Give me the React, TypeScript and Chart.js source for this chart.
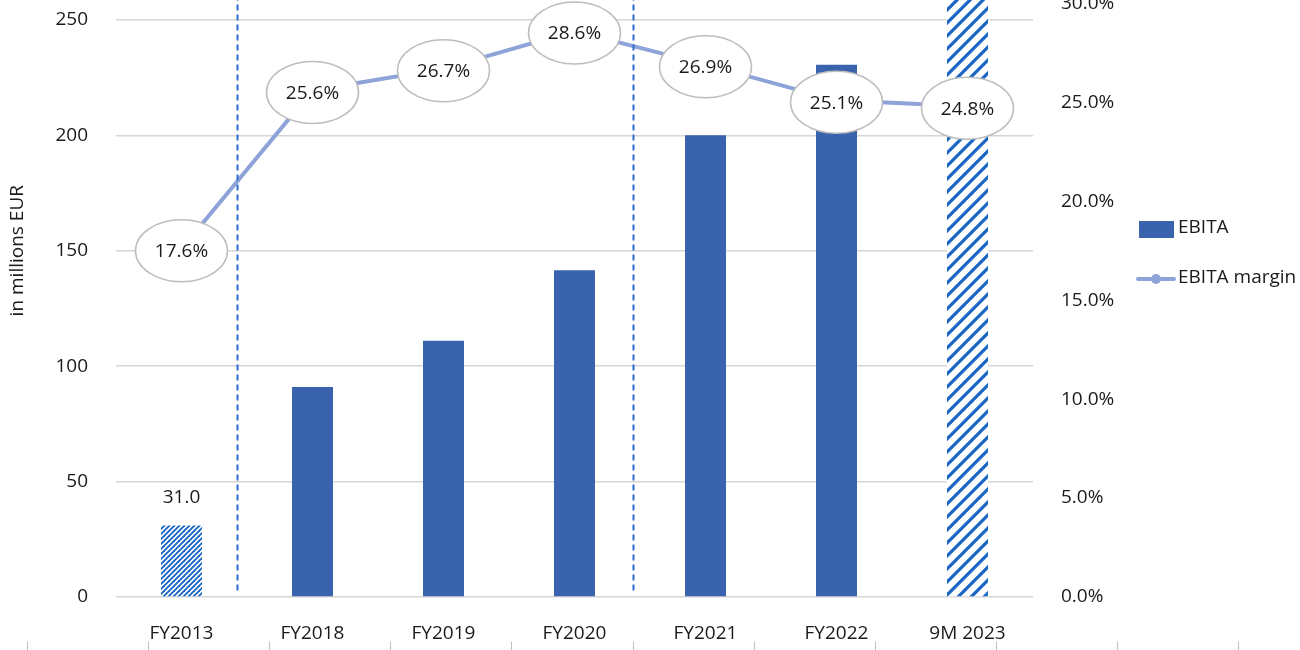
import React, { useEffect, useRef } from 'react';
import { Chart, registerables } from 'chart.js';

Chart.register(...registerables);

// ---------- data ----------
const categories = ['FY2013', 'FY2018', 'FY2019', 'FY2020', 'FY2021', 'FY2022', '9M 2023'];
const ebita = [31.0, 91, 111, 141.5, 200, 230.5, 270];
const ebitaMargin = [17.6, 25.6, 26.7, 28.6, 26.9, 25.1, 24.8];
const hatchPeriods = [5, 0, 0, 0, 0, 0, 13]; // 0 = solid bar
const valueLabelBars = [0];
const dividerPositions = [0.42, 3.45]; // in category-index units
const leftAxisMax = 300;
const leftAxisStep = 50;
const rightAxisMax = 35;
const rightAxisStep = 5;
const legendLabels = ['EBITA', 'EBITA margin'];
const yAxisTitle = 'in millions EUR';

// ---------- styles ----------
const FONT = '"Open Sans", "Noto Sans", sans-serif';
const FONT_SIZE = 19;
const BAR_COLOR = '#3A63AD';
const HATCH_COLOR = '#1A66C4';
const LINE_COLOR = '#8EA3D8';
const GRID_COLOR = '#D6D6D6';
const TEXT_COLOR = '#1a1a1a';
const DIVIDER_COLOR = '#2F6BD0';
const CANVAS_W = 1300;
const CANVAS_SHIFT = 135;
const CANVAS_H = 650 + CANVAS_SHIFT;

function makeHatch(period: number): CanvasPattern | string {
  const c = document.createElement('canvas');
  c.width = period;
  c.height = period;
  const g = c.getContext('2d');
  if (!g) return HATCH_COLOR;
  g.fillStyle = '#ffffff';
  g.fillRect(0, 0, period, period);
  g.strokeStyle = HATCH_COLOR;
  g.lineWidth = period <= 6 ? 1.9 : 3.2;
  g.lineCap = 'square';
  const segs = [
    [0, period, period, 0],
    [-period, period, period, -period],
    [0, 2 * period, 2 * period, 0],
  ];
  segs.forEach(([a, b, cc, d]) => {
    g.beginPath();
    g.moveTo(a, b);
    g.lineTo(cc, d);
    g.stroke();
  });
  const ctx = document.createElement('canvas').getContext('2d');
  const p = ctx ? ctx.createPattern(c, 'repeat') : null;
  return p || HATCH_COLOR;
}

const overlayPlugin = {
  id: 'overlay',
  afterDatasetsDraw(chart: any) {
    const { ctx, chartArea, scales } = chart;
    const x = scales.x;
    ctx.save();
    // dashed dividers
    ctx.strokeStyle = DIVIDER_COLOR;
    ctx.lineWidth = 2;
    ctx.setLineDash([6, 4]);
    dividerPositions.forEach((p) => {
      const px = Math.round(x.getPixelForValue(p)) + 0.5;
      ctx.beginPath();
      ctx.moveTo(px, chartArea.top);
      ctx.lineTo(px, chartArea.bottom - 4);
      ctx.stroke();
    });
    ctx.setLineDash([]);

    ctx.font = `${FONT_SIZE}px ${FONT}`;
    ctx.fillStyle = TEXT_COLOR;
    ctx.textAlign = 'center';
    ctx.textBaseline = 'middle';

    // bar value labels
    const barMeta = chart.getDatasetMeta(0);
    valueLabelBars.forEach((i) => {
      const el = barMeta.data[i];
      if (!el) return;
      ctx.fillStyle = TEXT_COLOR;
      ctx.fillText(ebita[i].toFixed(1), el.x, el.y - 28);
    });

    // margin labels in ellipses
    const lineMeta = chart.getDatasetMeta(1);
    lineMeta.data.forEach((pt: any, i: number) => {
      const cx = pt.x;
      const cy = pt.y + 2;
      ctx.beginPath();
      ctx.ellipse(cx, cy, 46, 31, 0, 0, Math.PI * 2);
      ctx.fillStyle = '#ffffff';
      ctx.fill();
      ctx.strokeStyle = '#BDBDBD';
      ctx.lineWidth = 1.5;
      ctx.stroke();
      ctx.fillStyle = TEXT_COLOR;
      ctx.fillText(ebitaMargin[i].toFixed(1) + '%', cx, cy + 1);
    });
    ctx.restore();
  },
  afterDraw(chart: any) {
    const { ctx } = chart;
    ctx.save();
    const off = CANVAS_SHIFT;
    // legend
    ctx.fillStyle = BAR_COLOR;
    ctx.fillRect(1139, 221 + off, 35, 17);
    ctx.font = `${FONT_SIZE}px ${FONT}`;
    ctx.fillStyle = TEXT_COLOR;
    ctx.textAlign = 'left';
    ctx.textBaseline = 'middle';
    ctx.fillText(legendLabels[0], 1178, 228 + off);

    ctx.strokeStyle = LINE_COLOR;
    ctx.lineWidth = 4;
    ctx.lineCap = 'round';
    ctx.beginPath();
    ctx.moveTo(1138, 279 + off);
    ctx.lineTo(1174, 279 + off);
    ctx.stroke();
    ctx.fillStyle = LINE_COLOR;
    ctx.beginPath();
    ctx.arc(1156, 279 + off, 5, 0, Math.PI * 2);
    ctx.fill();
    ctx.fillStyle = TEXT_COLOR;
    ctx.fillText(legendLabels[1], 1178, 278 + off);

    // table column marks under the chart
    ctx.strokeStyle = '#BFBFBF';
    ctx.lineWidth = 1;
    for (let k = 0; k <= 10; k++) {
      const px = Math.round(27 + 121.1 * k) + 0.5;
      ctx.beginPath();
      ctx.moveTo(px, 642 + off);
      ctx.lineTo(px, 650 + off);
      ctx.stroke();
    }
    ctx.restore();
  },
};

export default function App() {
  const ref = useRef<HTMLCanvasElement | null>(null);

  useEffect(() => {
    const canvas = ref.current;
    if (!canvas) return;
    const barColors = hatchPeriods.map((p) => (p > 0 ? makeHatch(p) : BAR_COLOR));

    const chart = new Chart(canvas, {
      type: 'bar',
      data: {
        labels: categories,
        datasets: [
          {
            type: 'bar',
            label: legendLabels[0],
            data: ebita,
            backgroundColor: barColors as any,
            borderWidth: 0,
            barPercentage: 0.313,
            categoryPercentage: 1,
            yAxisID: 'y',
            order: 2,
          },
          {
            type: 'line',
            label: legendLabels[1],
            data: ebitaMargin,
            borderColor: LINE_COLOR,
            backgroundColor: LINE_COLOR,
            borderWidth: 4,
            pointRadius: 0,
            tension: 0,
            yAxisID: 'y1',
            order: 1,
          },
        ],
      },
      options: {
        responsive: false,
        animation: false,
        devicePixelRatio: 1,
        layout: { padding: { top: 14, right: 167, bottom: 0, left: 0 } },
        plugins: {
          legend: { display: false },
          tooltip: { enabled: false },
        },
        scales: {
          x: {
            grid: { display: false, drawTicks: false },
            border: { display: false },
            ticks: {
              padding: 25,
              color: TEXT_COLOR,
              font: { family: FONT, size: FONT_SIZE },
              maxRotation: 0,
            },
            afterFit: (s: any) => {
              s.height = 53;
            },
          },
          y: {
            position: 'left',
            min: 0,
            max: leftAxisMax,
            ticks: {
              stepSize: leftAxisStep,
              padding: 28,
              color: TEXT_COLOR,
              font: { family: FONT, size: FONT_SIZE },
            },
            grid: { color: GRID_COLOR, lineWidth: 1.5, drawTicks: false },
            border: { display: false },
            title: {
              display: true,
              text: yAxisTitle,
              color: TEXT_COLOR,
              font: { family: FONT, size: FONT_SIZE },
              padding: { top: 6, bottom: 0 },
            },
            afterFit: (s: any) => {
              s.width = 116;
            },
          },
          y1: {
            position: 'right',
            min: 0,
            max: rightAxisMax,
            ticks: {
              stepSize: rightAxisStep,
              padding: 28,
              color: TEXT_COLOR,
              font: { family: FONT, size: FONT_SIZE },
              callback: (v: any) => Number(v).toFixed(1) + '%',
            },
            grid: { display: false, drawTicks: false },
            border: { display: false },
            afterFit: (s: any) => {
              s.width = 100;
            },
          },
        },
      },
      plugins: [overlayPlugin],
    });
    return () => chart.destroy();
  }, []);

  return (
    <div
      style={{
        position: 'fixed',
        left: 0,
        top: 0,
        width: CANVAS_W,
        height: 650,
        overflow: 'hidden',
        background: '#ffffff',
      }}
    >
      <canvas
        ref={ref}
        width={CANVAS_W}
        height={CANVAS_H}
        style={{ position: 'absolute', left: 0, top: -CANVAS_SHIFT, width: CANVAS_W, height: CANVAS_H }}
      />
    </div>
  );
}
